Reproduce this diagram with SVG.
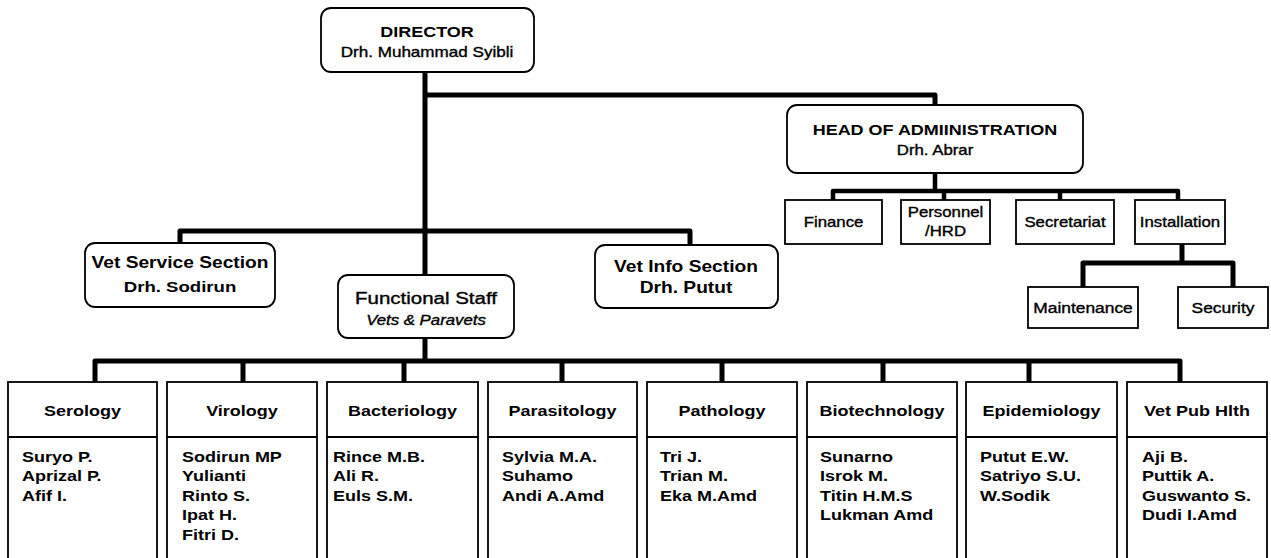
<svg xmlns="http://www.w3.org/2000/svg" width="1271" height="558" viewBox="0 0 1271 558">
  <style>
    .box { fill: #fff; stroke: #000; stroke-width: 1.8; }
    .rbox { fill: #fff; stroke: #000; stroke-width: 1.8; }
    .sep { stroke: #000; stroke-width: 1.8; fill: none; }
    .conn { fill: none; stroke: #000; stroke-width: 5; stroke-linejoin: round; }
    .thin { stroke-width: 4.5; }
    text { font-family: "Liberation Sans", Arial, Helvetica, sans-serif; fill: #000; }
    .c { text-anchor: middle; }
    .b { font-weight: bold; }
    .r { stroke: #000; stroke-width: 0.35; }
    .it { font-style: italic; }
    .f14 { font-size: 14px; }
    .f145 { font-size: 14.5px; }
    .f15 { font-size: 15px; }
    .f155 { font-size: 15.5px; }
    .f16 { font-size: 16px; }
    .nm { font-size: 15px; font-weight: bold; }
  </style>

  <!-- connector lines -->
  <g id="connectors">
    <path class="conn" d="M425 72 V275"/>
    <path class="conn" d="M425 95 H935 V105"/>
    <path class="conn" d="M180 243 V231 H690 V245"/>
    <path class="conn" d="M425 338 V361"/>
    <path class="conn" d="M95 382 V361 H1180 V382"/>
    <path class="conn" d="M243 361 V382 M404 361 V382 M562 361 V382 M722 361 V382 M883 361 V382 M1029 361 V382"/>
    <path class="conn thin" d="M935 173 V191"/>
    <path class="conn thin" d="M833 200 V191 H1178 V200"/>
    <path class="conn thin" d="M944 191 V200 M1060 191 V200"/>
    <path class="conn" d="M1182 244 V263"/>
    <path class="conn" d="M1083 287 V263 H1233 V287"/>
  </g>

  <!-- top level -->
  <g id="director">
    <rect class="rbox" x="321" y="8" width="213" height="64" rx="10"/>
    <g transform="translate(427 0) scale(1.2 1)">
      <text class="c b f15" x="0" y="37">DIRECTOR</text>
    </g>
    <g transform="translate(427 0) scale(1.22 1)">
      <text class="c r f14" x="0" y="57">Drh. Muhammad Syibli</text>
    </g>
  </g>

  <g id="head-admin">
    <rect class="rbox" x="787" y="105" width="296" height="68" rx="10"/>
    <g transform="translate(935 0) scale(1.2 1)">
      <text class="c b f15" x="0" y="135">HEAD OF ADMIINISTRATION</text>
      <text class="c r f14" x="0" y="155">Drh. Abrar</text>
    </g>
  </g>

  <!-- administration units -->
  <g id="finance">
    <rect class="box" x="785" y="200" width="97" height="44"/>
    <g transform="translate(833.5 0) scale(1.2 1)">
      <text class="c r f14" x="0" y="227">Finance</text>
    </g>
  </g>
  <g id="personnel">
    <rect class="box" x="901" y="200" width="89" height="44"/>
    <g transform="translate(945.5 0) scale(1.2 1)">
      <text class="c r f14" x="0" y="217">Personnel</text>
      <text class="c r f14" x="0" y="236">/HRD</text>
    </g>
  </g>
  <g id="secretariat">
    <rect class="box" x="1016" y="200" width="98" height="44"/>
    <g transform="translate(1065 0) scale(1.2 1)">
      <text class="c r f14" x="0" y="227">Secretariat</text>
    </g>
  </g>
  <g id="installation">
    <rect class="box" x="1135" y="200" width="90" height="44"/>
    <g transform="translate(1180 0) scale(1.2 1)">
      <text class="c r f14" x="0" y="227">Installation</text>
    </g>
  </g>
  <g id="maintenance">
    <rect class="box" x="1028" y="287" width="110" height="41"/>
    <g transform="translate(1083 0) scale(1.2 1)">
      <text class="c r f145" x="0" y="313">Maintenance</text>
    </g>
  </g>
  <g id="security">
    <rect class="box" x="1178" y="287" width="90" height="41"/>
    <g transform="translate(1223 0) scale(1.2 1)">
      <text class="c r f145" x="0" y="313">Security</text>
    </g>
  </g>

  <!-- sections -->
  <g id="vet-service">
    <rect class="rbox" x="85" y="243" width="190" height="64" rx="10"/>
    <g transform="translate(180 0) scale(1.2 1)">
      <text class="c b f16" x="0" y="268">Vet Service Section</text>
      <text class="c b f155" x="0" y="292">Drh. Sodirun</text>
    </g>
  </g>
  <g id="functional-staff">
    <rect class="rbox" x="338" y="275" width="176" height="63" rx="10"/>
    <g transform="translate(426 0) scale(1.28 1)">
      <text class="c r f16" x="0" y="304">Functional Staff</text>
    </g>
    <g transform="translate(426 0) scale(1.2 1)">
      <text class="c r it f14" x="0" y="325">Vets &amp; Paravets</text>
    </g>
  </g>
  <g id="vet-info">
    <rect class="rbox" x="595" y="245" width="183" height="63" rx="10"/>
    <g transform="translate(686 0) scale(1.2 1)">
      <text class="c b f16" x="0" y="272">Vet Info Section</text>
      <text class="c b f16" x="0" y="293">Drh. Putut</text>
    </g>
  </g>

  <!-- laboratory units -->
  <g id="serology">
    <rect class="box" x="8" y="382" width="149" height="190"/>
    <path class="sep" d="M8 437 H157"/>
    <g transform="translate(82.5 0) scale(1.2 1)"><text class="c b f15" x="0" y="416">Serology</text></g>
    <g transform="translate(22 0) scale(1.2 1)">
      <text class="nm" x="0" y="462">Suryo P.</text>
      <text class="nm" x="0" y="481.5">Aprizal P.</text>
      <text class="nm" x="0" y="501">Afif I.</text>
    </g>
  </g>
  <g id="virology">
    <rect class="box" x="167" y="382" width="150" height="190"/>
    <path class="sep" d="M167 437 H317"/>
    <g transform="translate(242 0) scale(1.2 1)"><text class="c b f15" x="0" y="416">Virology</text></g>
    <g transform="translate(182 0) scale(1.2 1)">
      <text class="nm" x="0" y="462">Sodirun MP</text>
      <text class="nm" x="0" y="481.5">Yulianti</text>
      <text class="nm" x="0" y="501">Rinto S.</text>
      <text class="nm" x="0" y="520.5">Ipat H.</text>
      <text class="nm" x="0" y="540">Fitri D.</text>
    </g>
  </g>
  <g id="bacteriology">
    <rect class="box" x="327" y="382" width="151" height="190"/>
    <path class="sep" d="M327 437 H478"/>
    <g transform="translate(402.5 0) scale(1.2 1)"><text class="c b f15" x="0" y="416">Bacteriology</text></g>
    <g transform="translate(333 0) scale(1.2 1)">
      <text class="nm" x="0" y="462">Rince M.B.</text>
      <text class="nm" x="0" y="481.5">Ali R.</text>
      <text class="nm" x="0" y="501">Euls S.M.</text>
    </g>
  </g>
  <g id="parasitology">
    <rect class="box" x="488" y="382" width="149" height="190"/>
    <path class="sep" d="M488 437 H637"/>
    <g transform="translate(562.5 0) scale(1.2 1)"><text class="c b f15" x="0" y="416">Parasitology</text></g>
    <g transform="translate(502 0) scale(1.2 1)">
      <text class="nm" x="0" y="462">Sylvia M.A.</text>
      <text class="nm" x="0" y="481.5">Suhamo</text>
      <text class="nm" x="0" y="501">Andi A.Amd</text>
    </g>
  </g>
  <g id="pathology">
    <rect class="box" x="647" y="382" width="150" height="190"/>
    <path class="sep" d="M647 437 H797"/>
    <g transform="translate(722 0) scale(1.2 1)"><text class="c b f15" x="0" y="416">Pathology</text></g>
    <g transform="translate(660 0) scale(1.2 1)">
      <text class="nm" x="0" y="462">Tri J.</text>
      <text class="nm" x="0" y="481.5">Trian M.</text>
      <text class="nm" x="0" y="501">Eka M.Amd</text>
    </g>
  </g>
  <g id="biotechnology">
    <rect class="box" x="807" y="382" width="150" height="190"/>
    <path class="sep" d="M807 437 H957"/>
    <g transform="translate(882 0) scale(1.2 1)"><text class="c b f15" x="0" y="416">Biotechnology</text></g>
    <g transform="translate(820 0) scale(1.2 1)">
      <text class="nm" x="0" y="462">Sunarno</text>
      <text class="nm" x="0" y="481.5">Isrok M.</text>
      <text class="nm" x="0" y="501">Titin H.M.S</text>
      <text class="nm" x="0" y="520.5">Lukman Amd</text>
    </g>
  </g>
  <g id="epidemiology">
    <rect class="box" x="966" y="382" width="151" height="190"/>
    <path class="sep" d="M966 437 H1117"/>
    <g transform="translate(1041.5 0) scale(1.2 1)"><text class="c b f15" x="0" y="416">Epidemiology</text></g>
    <g transform="translate(980 0) scale(1.2 1)">
      <text class="nm" x="0" y="462">Putut E.W.</text>
      <text class="nm" x="0" y="481.5">Satriyo S.U.</text>
      <text class="nm" x="0" y="501">W.Sodik</text>
    </g>
  </g>
  <g id="vet-pub-hlth">
    <rect class="box" x="1127" y="382" width="140" height="190"/>
    <path class="sep" d="M1127 437 H1267"/>
    <g transform="translate(1197 0) scale(1.2 1)"><text class="c b f15" x="0" y="416">Vet Pub Hlth</text></g>
    <g transform="translate(1142 0) scale(1.2 1)">
      <text class="nm" x="0" y="462">Aji B.</text>
      <text class="nm" x="0" y="481.5">Puttik A.</text>
      <text class="nm" x="0" y="501">Guswanto S.</text>
      <text class="nm" x="0" y="520.5">Dudi I.Amd</text>
    </g>
  </g>
</svg>
